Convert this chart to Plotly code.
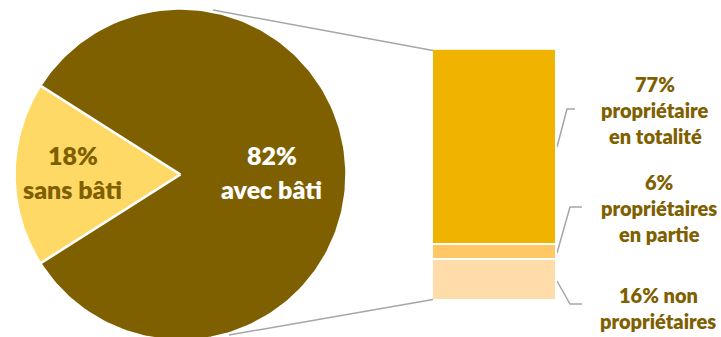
import numpy as np
import plotly.graph_objects as go

# Pie: share of parcels with / without buildings
pie_labels = ["sans bâti", "avec bâti"]
pie_values = [18, 82]
pie_colors = ["#FFD966", "#7F6000"]
pie_text_colors = ["#7F6000", "#FFFFFF"]

# Stacked bar: ownership breakdown of the "avec bâti" part (bottom to top)
bar_labels = ["non propriétaires", "propriétaires en partie", "propriétaire en totalité"]
bar_values = [16, 6, 77]
bar_colors = ["#FFDCA8", "#FFC766", "#F0B400"]
bar_label_lines = [
    ["16% non", "propriétaires"],
    ["6%", "propriétaires", "en partie"],
    ["77%", "propriétaire", "en totalité"],
]

W, H = 721, 337
FONT = "Lato"
TEXT = "#7F6000"
GREY = "#A6A6A6"

fig = go.Figure()

# ---- pie drawn as filled polygons on a pixel-scaled axis ----
cx, cy, r = 180.5, 174.5, 166.0
half = pie_values[0] / sum(pie_values) * 360 / 2
start = 180 - half  # first slice centred on the left
label_frac = [0.65, 0.55]
angle = start
for lab, val, col, tcol, fr in zip(pie_labels, pie_values, pie_colors, pie_text_colors, label_frac):
    sweep = val / sum(pie_values) * 360
    th = np.radians(np.linspace(angle, angle + sweep, 200))
    xs = np.concatenate([[cx], cx + r * np.cos(th), [cx]])
    ys = np.concatenate([[cy], cy - r * np.sin(th), [cy]])
    fig.add_trace(go.Scatter(x=xs, y=ys, mode="lines", fill="toself", fillcolor=col,
                             line=dict(color="white", width=2.5), hoverinfo="skip",
                             showlegend=False, xaxis="x", yaxis="y"))
    mid = np.radians(angle + sweep / 2)
    tx = cx + fr * r * np.cos(mid)
    ty = cy - fr * r * np.sin(mid)
    for i, line in enumerate([f"{val}%", lab]):
        fig.add_annotation(x=tx, y=ty - 20 + 34 * i, xref="x", yref="y", text=line,
                           showarrow=False,
                           font=dict(family=FONT, size=25, color=tcol, weight=800),
                           xanchor="center", yanchor="middle")
    angle += sweep

# ---- stacked bar ----
for lab, val, col in zip(bar_labels, bar_values, bar_colors):
    fig.add_trace(go.Bar(x=[0], y=[val], name=lab,
                         marker=dict(color=col, line=dict(color="white", width=2.8)),
                         width=1, xaxis="x2", yaxis="y2", hoverinfo="skip", showlegend=False))

# connector lines from the pie to the bar
for x0, y0, x1, y1 in [(213, 10, 433, 50.5), (229, 335, 433, 299.5)]:
    fig.add_shape(type="line", x0=x0, y0=y0, x1=x1, y1=y1, xref="x", yref="y",
                  line=dict(color=GREY, width=1.5))

# label leader lines
for pts in [[(557, 147), (567, 109), (575, 109)],
            [(557, 253), (570, 207), (582, 207)],
            [(557, 281), (570, 304), (582, 304)]]:
    fig.add_trace(go.Scatter(x=[p[0] for p in pts], y=[p[1] for p in pts], mode="lines",
                             line=dict(color=GREY, width=1.5), hoverinfo="skip",
                             showlegend=False, xaxis="x", yaxis="y"))

# bar labels
label_pos = [(658, 295), (659, 182), (655, 84)]
for lines, (lx, ly) in zip(bar_label_lines, label_pos):
    for i, line in enumerate(lines):
        fig.add_annotation(x=lx, y=ly + 26 * i, xref="x", yref="y", text=line,
                           showarrow=False,
                           font=dict(family=FONT, size=20, color=TEXT, weight=800),
                           xanchor="center", yanchor="middle")

bar_top, bar_bottom = 49.3, 300.2
fig.update_layout(
    width=W, height=H, margin=dict(l=0, r=0, t=0, b=0),
    paper_bgcolor="white", plot_bgcolor="rgba(0,0,0,0)",
    barmode="stack", bargap=0,
    xaxis=dict(domain=[0, 1], range=[0, W], visible=False, fixedrange=True),
    yaxis=dict(domain=[0, 1], range=[H, 0], visible=False, fixedrange=True),
    xaxis2=dict(domain=[432 / W, 557 / W], range=[-0.5, 0.5], visible=False, anchor="y2"),
    yaxis2=dict(domain=[(H - bar_bottom) / H, (H - bar_top) / H], range=[0, sum(bar_values)],
                visible=False, anchor="x2"),
)

fig.write_html("out.html")
